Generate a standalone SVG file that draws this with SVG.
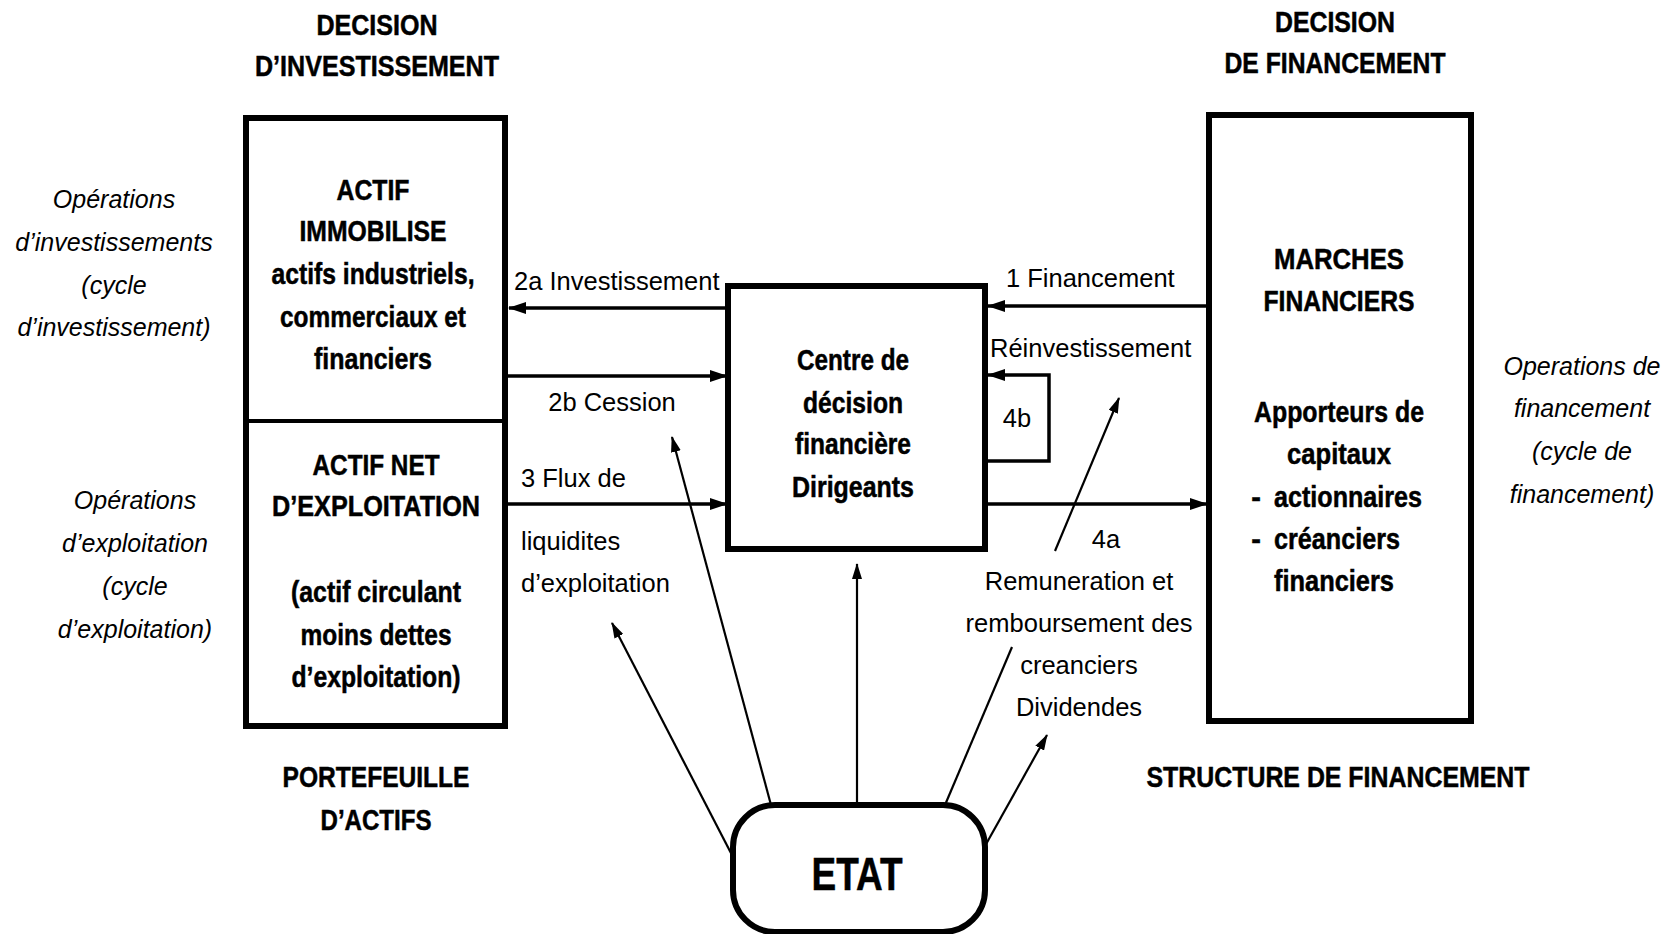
<svg xmlns="http://www.w3.org/2000/svg" width="1679" height="934" viewBox="0 0 1679 934">
<defs>
<style>
.bx{fill:#fff;stroke:#000;stroke-width:6}
.h{fill:none;stroke:#000;stroke-width:3.5}
.d{fill:none;stroke:#000;stroke-width:2.2}
.b{font-family:"Liberation Sans",Arial,sans-serif;font-weight:bold;font-size:29px;fill:#000;text-anchor:middle;stroke:#000;stroke-width:0.5}
.r{font-family:"Liberation Sans",Arial,sans-serif;font-size:25.5px;fill:#000}
.i{font-family:"Liberation Sans",Arial,sans-serif;font-style:italic;font-size:25px;fill:#000;text-anchor:middle}
.m{text-anchor:middle}
</style>
<marker id="ah" markerWidth="18" markerHeight="12" refX="17" refY="6" orient="auto" markerUnits="userSpaceOnUse">
<path d="M0,0 L18,6 L0,12 Z" fill="#000"/>
</marker>
<marker id="ad" markerWidth="16" markerHeight="10" refX="15" refY="5" orient="auto" markerUnits="userSpaceOnUse">
<path d="M0,0 L16,5 L0,10 Z" fill="#000"/>
</marker>
</defs>
<rect width="1679" height="934" fill="#fff"/>

<g id="titles">
<text class="b" x="377" y="35" textLength="121" lengthAdjust="spacingAndGlyphs">DECISION</text>
<text class="b" x="377" y="76" textLength="244" lengthAdjust="spacingAndGlyphs">D’INVESTISSEMENT</text>
<text class="b" x="1335" y="32" textLength="120" lengthAdjust="spacingAndGlyphs">DECISION</text>
<text class="b" x="1335" y="73" textLength="221" lengthAdjust="spacingAndGlyphs">DE FINANCEMENT</text>
<text class="b" x="376" y="787" textLength="187" lengthAdjust="spacingAndGlyphs">PORTEFEUILLE</text>
<text class="b" x="376" y="830" textLength="111" lengthAdjust="spacingAndGlyphs">D’ACTIFS</text>
<text class="b" x="1338" y="787" textLength="383" lengthAdjust="spacingAndGlyphs">STRUCTURE DE FINANCEMENT</text>
</g>

<g id="side-labels">
<text class="i" x="114" y="208">Opérations</text>
<text class="i" x="114" y="251">d’investissements</text>
<text class="i" x="114" y="294">(cycle</text>
<text class="i" x="114" y="336">d’investissement)</text>
<text class="i" x="135" y="509">Opérations</text>
<text class="i" x="135" y="552">d’exploitation</text>
<text class="i" x="135" y="595">(cycle</text>
<text class="i" x="135" y="638">d’exploitation)</text>
<text class="i" x="1582" y="375">Operations de</text>
<text class="i" x="1582" y="417">financement</text>
<text class="i" x="1582" y="460">(cycle de</text>
<text class="i" x="1582" y="503">financement)</text>
</g>

<g id="portefeuille">
<rect class="bx" x="246" y="118" width="259" height="608"/>
<line x1="246" y1="421" x2="505" y2="421" stroke="#000" stroke-width="4"/>
<text class="b" x="373" y="200" textLength="73" lengthAdjust="spacingAndGlyphs">ACTIF</text>
<text class="b" x="373" y="241" textLength="147" lengthAdjust="spacingAndGlyphs">IMMOBILISE</text>
<text class="b" x="373" y="284" textLength="203" lengthAdjust="spacingAndGlyphs">actifs industriels,</text>
<text class="b" x="373" y="327" textLength="186" lengthAdjust="spacingAndGlyphs">commerciaux et</text>
<text class="b" x="373" y="369" textLength="118" lengthAdjust="spacingAndGlyphs">financiers</text>
<text class="b" x="376" y="475" textLength="127" lengthAdjust="spacingAndGlyphs">ACTIF NET</text>
<text class="b" x="376" y="516" textLength="208" lengthAdjust="spacingAndGlyphs">D’EXPLOITATION</text>
<text class="b" x="376" y="602" textLength="170" lengthAdjust="spacingAndGlyphs">(actif circulant</text>
<text class="b" x="376" y="645" textLength="151" lengthAdjust="spacingAndGlyphs">moins dettes</text>
<text class="b" x="376" y="687" textLength="169" lengthAdjust="spacingAndGlyphs">d’exploitation)</text>
</g>

<g id="centre">
<rect class="bx" x="728" y="286" width="257" height="263"/>
<text class="b" x="853" y="370" textLength="112" lengthAdjust="spacingAndGlyphs">Centre de</text>
<text class="b" x="853" y="413" textLength="100" lengthAdjust="spacingAndGlyphs">décision</text>
<text class="b" x="853" y="454" textLength="116" lengthAdjust="spacingAndGlyphs">financière</text>
<text class="b" x="853" y="497" textLength="122" lengthAdjust="spacingAndGlyphs">Dirigeants</text>
</g>

<g id="marches">
<rect class="bx" x="1209" y="115" width="262" height="606"/>
<text class="b" x="1339" y="269" textLength="130" lengthAdjust="spacingAndGlyphs">MARCHES</text>
<text class="b" x="1339" y="311" textLength="151" lengthAdjust="spacingAndGlyphs">FINANCIERS</text>
<text class="b" x="1339" y="422" textLength="170" lengthAdjust="spacingAndGlyphs">Apporteurs de</text>
<text class="b" x="1339" y="464" textLength="104" lengthAdjust="spacingAndGlyphs">capitaux</text>
<text class="b" x="1256" y="507">-</text>
<text class="b" x="1348" y="507" textLength="148" lengthAdjust="spacingAndGlyphs">actionnaires</text>
<text class="b" x="1256" y="549">-</text>
<text class="b" x="1337" y="549" textLength="126" lengthAdjust="spacingAndGlyphs">créanciers</text>
<text class="b" x="1334" y="591" textLength="120" lengthAdjust="spacingAndGlyphs">financiers</text>
</g>

<g id="etat">
<rect x="733" y="805" width="252" height="127" rx="42" ry="42" fill="#fff" stroke="#000" stroke-width="6"/>
<text class="b" x="857" y="890" style="font-size:46px" textLength="91" lengthAdjust="spacingAndGlyphs">ETAT</text>
</g>

<g id="connectors">
<line class="h" x1="728" y1="308" x2="509" y2="308" marker-end="url(#ah)"/>
<line class="h" x1="505" y1="376" x2="727" y2="376" marker-end="url(#ah)"/>
<line class="h" x1="505" y1="504" x2="727" y2="504" marker-end="url(#ah)"/>
<line class="h" x1="1209" y1="306" x2="988" y2="306" marker-end="url(#ah)"/>
<path class="h" d="M985,461 H1049 V375 H988" marker-end="url(#ah)"/>
<line class="h" x1="985" y1="504" x2="1207" y2="504" marker-end="url(#ah)"/>
<line class="d" x1="771" y1="805" x2="672" y2="437" marker-end="url(#ad)"/>
<line class="d" x1="733" y1="857" x2="612" y2="623" marker-end="url(#ad)"/>
<line class="d" x1="857" y1="805" x2="857" y2="564" marker-end="url(#ad)"/>
<line class="d" x1="945" y1="805" x2="1012" y2="647"/>
<line class="d" x1="1055" y1="551" x2="1119" y2="398" marker-end="url(#ad)"/>
<line class="d" x1="985" y1="846" x2="1047" y2="735" marker-end="url(#ad)"/>
</g>

<g id="connector-labels">
<text class="r" x="514" y="290">2a Investissement</text>
<text class="r m" x="612" y="411">2b Cession</text>
<text class="r" x="521" y="487">3 Flux de</text>
<text class="r" x="521" y="550">liquidites</text>
<text class="r" x="521" y="592">d’exploitation</text>
<text class="r" x="1006" y="287">1 Financement</text>
<text class="r" x="990" y="357">Réinvestissement</text>
<text class="r m" x="1017" y="427">4b</text>
<text class="r m" x="1106" y="548">4a</text>
<text class="r m" x="1079" y="590">Remuneration et</text>
<text class="r m" x="1079" y="632">remboursement des</text>
<text class="r m" x="1079" y="674">creanciers</text>
<text class="r m" x="1079" y="716">Dividendes</text>
</g>
</svg>
